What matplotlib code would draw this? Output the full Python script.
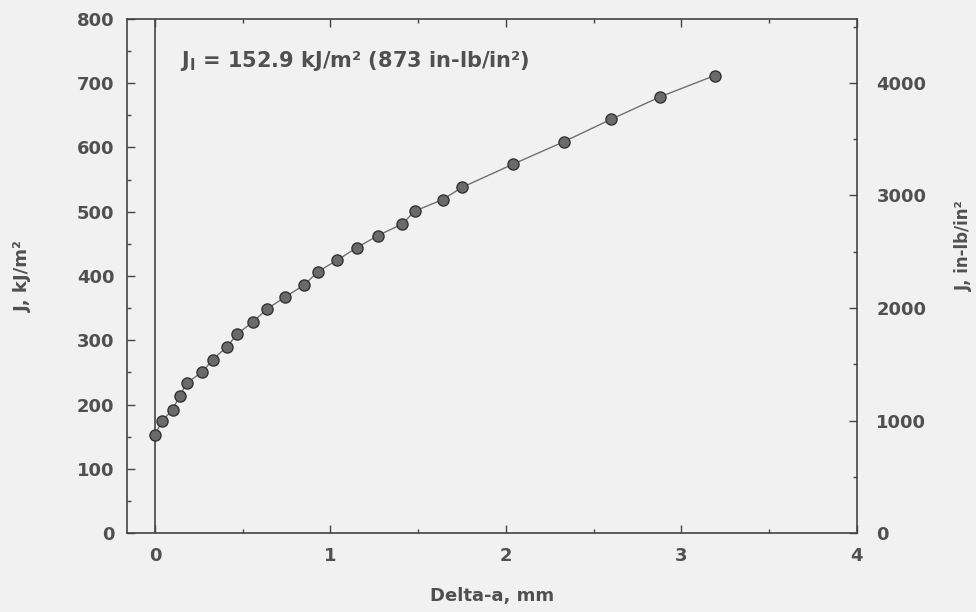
import numpy as np
import matplotlib
matplotlib.use('Agg')
import matplotlib.pyplot as plt
from matplotlib.ticker import MultipleLocator

plt.rcParams['font.family'] = ['DejaVu Sans']
plt.rcParams['mathtext.fontset'] = 'dejavusans'

# crack extension (mm) and J (kJ/m^2)
delta_a = [0.00, 0.04, 0.10, 0.14, 0.18, 0.27, 0.33, 0.41, 0.47, 0.56,
           0.64, 0.74, 0.85, 0.93, 1.04, 1.15, 1.27, 1.41, 1.48, 1.64,
           1.75, 2.04, 2.33, 2.60, 2.88, 3.19]
j_kj = [153, 174, 192, 213, 233, 251, 270, 290, 310, 329,
        349, 367, 386, 407, 425, 444, 463, 481, 501, 519,
        538, 574, 609, 644, 679, 712]

to_inlb = 5.71  # kJ/m^2 -> in-lb/in^2

txt = '#505050'
bg = '#f1f1f1'

fig = plt.figure(figsize=(9.76, 6.12), dpi=100, facecolor=bg)
ax = fig.add_axes([0.130, 0.129, 0.748, 0.840], facecolor=bg)

ax.axvline(0, color='#444444', lw=1.2)
ax.plot(delta_a, j_kj, color='#707070', lw=1.0, marker='o', ms=8,
        mfc='#6a6a6a', mec='#333333', mew=1.0)

ax.set_xlim(-0.16, 4)
ax.set_ylim(0, 800)
ax.xaxis.set_major_locator(MultipleLocator(1))
ax.xaxis.set_minor_locator(MultipleLocator(0.5))
ax.yaxis.set_major_locator(MultipleLocator(100))
ax.yaxis.set_minor_locator(MultipleLocator(50))
ax.tick_params(which='both', direction='in', top=True, colors='#444444',
               labelcolor=txt, labelsize=13, width=1)
ax.tick_params(which='major', length=6)
ax.tick_params(which='minor', length=3)
for lab in ax.get_xticklabels() + ax.get_yticklabels():
    lab.set_fontweight('bold')
ax.tick_params(axis='x', pad=10)
ax.tick_params(axis='y', pad=9)
for s in ax.spines.values():
    s.set_color('#444444')
    s.set_linewidth(1.2)

ax.set_xlabel('Delta-a, mm', fontsize=13, fontweight='bold', color=txt, labelpad=16)
ax.set_ylabel('J, kJ/m²', fontsize=13, fontweight='bold', color=txt, labelpad=32)

ax2 = ax.twinx()
ax2.set_ylim(0, 800 * to_inlb)
ax2.yaxis.set_major_locator(MultipleLocator(1000))
ax2.yaxis.set_minor_locator(MultipleLocator(500))
ax2.tick_params(which='both', direction='in', colors='#444444',
                labelcolor=txt, labelsize=13, width=1, pad=14)
ax2.tick_params(which='major', length=6)
ax2.tick_params(which='minor', length=3)
for lab in ax2.get_yticklabels():
    lab.set_fontweight('bold')
for s in ax2.spines.values():
    s.set_visible(False)
ax2.set_ylabel('J, in-lb/in²', fontsize=12, fontweight='bold', color=txt)
ax2.yaxis.set_label_coords(1.134, 0.56)

ax.text(0.14, 735, r'J$_\mathbf{I}$ = 152.9 kJ/m² (873 in-lb/in²)', fontsize=15,
        fontweight='bold', color=txt, va='center')

fig.savefig('out.png', dpi=100, facecolor=bg)
